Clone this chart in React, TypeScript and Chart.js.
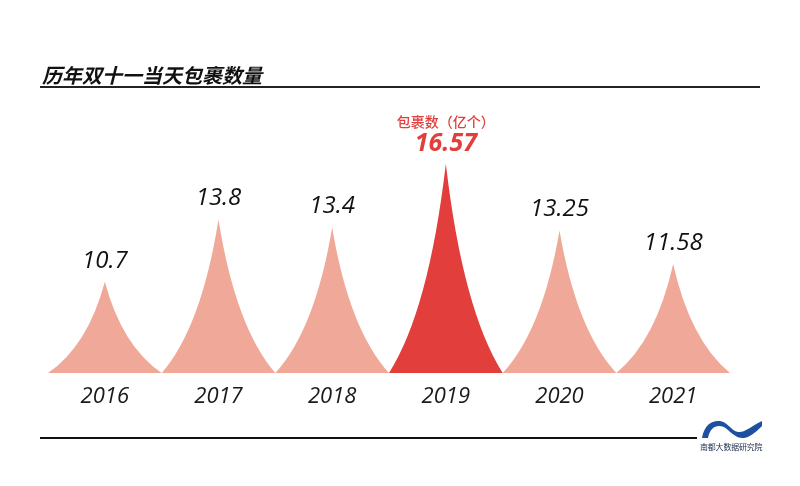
import React, { useEffect, useRef } from "react";
import { Chart, registerables } from "chart.js";

Chart.register(...registerables);

const categories = ["2016", "2017", "2018", "2019", "2020", "2021"];
const parcels = [10.7, 13.8, 13.4, 16.57, 13.25, 11.58];
const valueLabels = ["10.7", "13.8", "13.4", "16.57", "13.25", "11.58"];
const highlightIndex = 3;
const unitLabel = "包裹数（亿个）";
const title = "历年双十一当天包裹数量";
const source = "南都大数据研究院";
const yMin = 6.15;
const yMax = 19.75;

const SALMON = "#F0A998";
const RED = "#E23E3C";

const spikePlugin = {
  id: "spikes",
  afterDatasetsDraw(chart: any) {
    const ctx = chart.ctx;
    const meta = chart.getDatasetMeta(0);
    const xScale = chart.scales.x;
    const yScale = chart.scales.y;
    const base = yScale.getPixelForValue(yMin);
    ctx.save();
    meta.data.forEach((el: any, i: number) => {
      const { x, width } = el.getProps(["x", "width"], true);
      const y = yScale.getPixelForValue(parcels[i]);
      const hw = width / 2;
      const L = x - hw;
      const R = x + hw;
      const H = base - y;
      ctx.beginPath();
      ctx.moveTo(L, base);
      ctx.quadraticCurveTo(L + 0.7 * hw, base - 0.3 * H, x, y);
      ctx.quadraticCurveTo(R - 0.7 * hw, base - 0.3 * H, R, base);
      ctx.closePath();
      ctx.fillStyle = i === highlightIndex ? RED : SALMON;
      ctx.fill();

      ctx.textAlign = "center";
      ctx.textBaseline = "middle";
      if (i === highlightIndex) {
        ctx.fillStyle = RED;
        ctx.font = 'italic bold 25px "Open Sans", sans-serif';
        ctx.fillText(valueLabels[i], x, y - 20);
        ctx.font = '500 14px "Noto Sans CJK SC", sans-serif';
        ctx.fillText(unitLabel, x, y - 42);
      } else {
        ctx.fillStyle = "#111";
        ctx.font = 'italic 24px "Open Sans", sans-serif';
        ctx.fillText(valueLabels[i], x, y - 21);
      }

      ctx.fillStyle = "#1a1a1a";
      ctx.font = 'italic 22px "Open Sans", sans-serif';
      ctx.fillText(categories[i], xScale.getPixelForValue(i), base + 24);
    });
    ctx.restore();
  },
};

export default function App() {
  const ref = useRef<HTMLCanvasElement | null>(null);

  useEffect(() => {
    if (!ref.current) return;
    const chart = new Chart(ref.current, {
      type: "bar",
      data: {
        labels: categories,
        datasets: [
          {
            data: parcels,
            base: yMin,
            backgroundColor: "rgba(0,0,0,0)",
            borderWidth: 0,
            categoryPercentage: 1,
            barPercentage: 1,
          },
        ],
      },
      options: {
        responsive: false,
        animation: false,
        events: [],
        layout: { padding: { left: 48, right: 70, top: 100, bottom: 113 } },
        plugins: {
          legend: { display: false },
          tooltip: { enabled: false },
          title: { display: false },
        },
        scales: {
          x: { display: false, offset: true },
          y: { display: false, min: yMin, max: yMax },
        },
      },
      plugins: [spikePlugin],
    });
    return () => chart.destroy();
  }, []);

  return (
    <div style={{ position: "absolute", left: 0, top: 0, width: 800, height: 486, background: "#fff", overflow: "hidden" }}>
      <canvas ref={ref} width={800} height={486} style={{ position: "absolute", left: 0, top: 0 }} />
      <div
        style={{
          position: "absolute",
          left: 42,
          top: 61,
          fontFamily: '"Noto Sans CJK SC", sans-serif',
          fontWeight: 700,
          fontStyle: "italic",
          fontSize: 20,
          lineHeight: "28px",
          color: "#111",
          whiteSpace: "nowrap",
        }}
      >
        {title}
      </div>
      <div style={{ position: "absolute", left: 40, top: 86, width: 720, height: 1.5, background: "#222" }} />
      <div style={{ position: "absolute", left: 40, top: 437, width: 657, height: 2, background: "#111" }} />
      <svg style={{ position: "absolute", left: 700, top: 417 }} width={64} height={24} viewBox="0 0 64 24">
        <path
          d="M2,21 C4,8 12,3 20,4 C28,5 31,14 38,15 C44,16 50,10 62,4 L62,9 C55,16 50,20 44,21 C36,22 30,14 24,10 C17,7 10,10 8,21 Z"
          fill="#1F4FA0"
        />
      </svg>
      <div
        style={{
          position: "absolute",
          left: 700,
          top: 442,
          fontFamily: '"Noto Sans CJK SC", sans-serif',
          fontSize: 8,
          lineHeight: "10px",
          color: "#1b2a4a",
          whiteSpace: "nowrap",
          letterSpacing: -0.2,
        }}
      >
        {source}
      </div>
    </div>
  );
}
